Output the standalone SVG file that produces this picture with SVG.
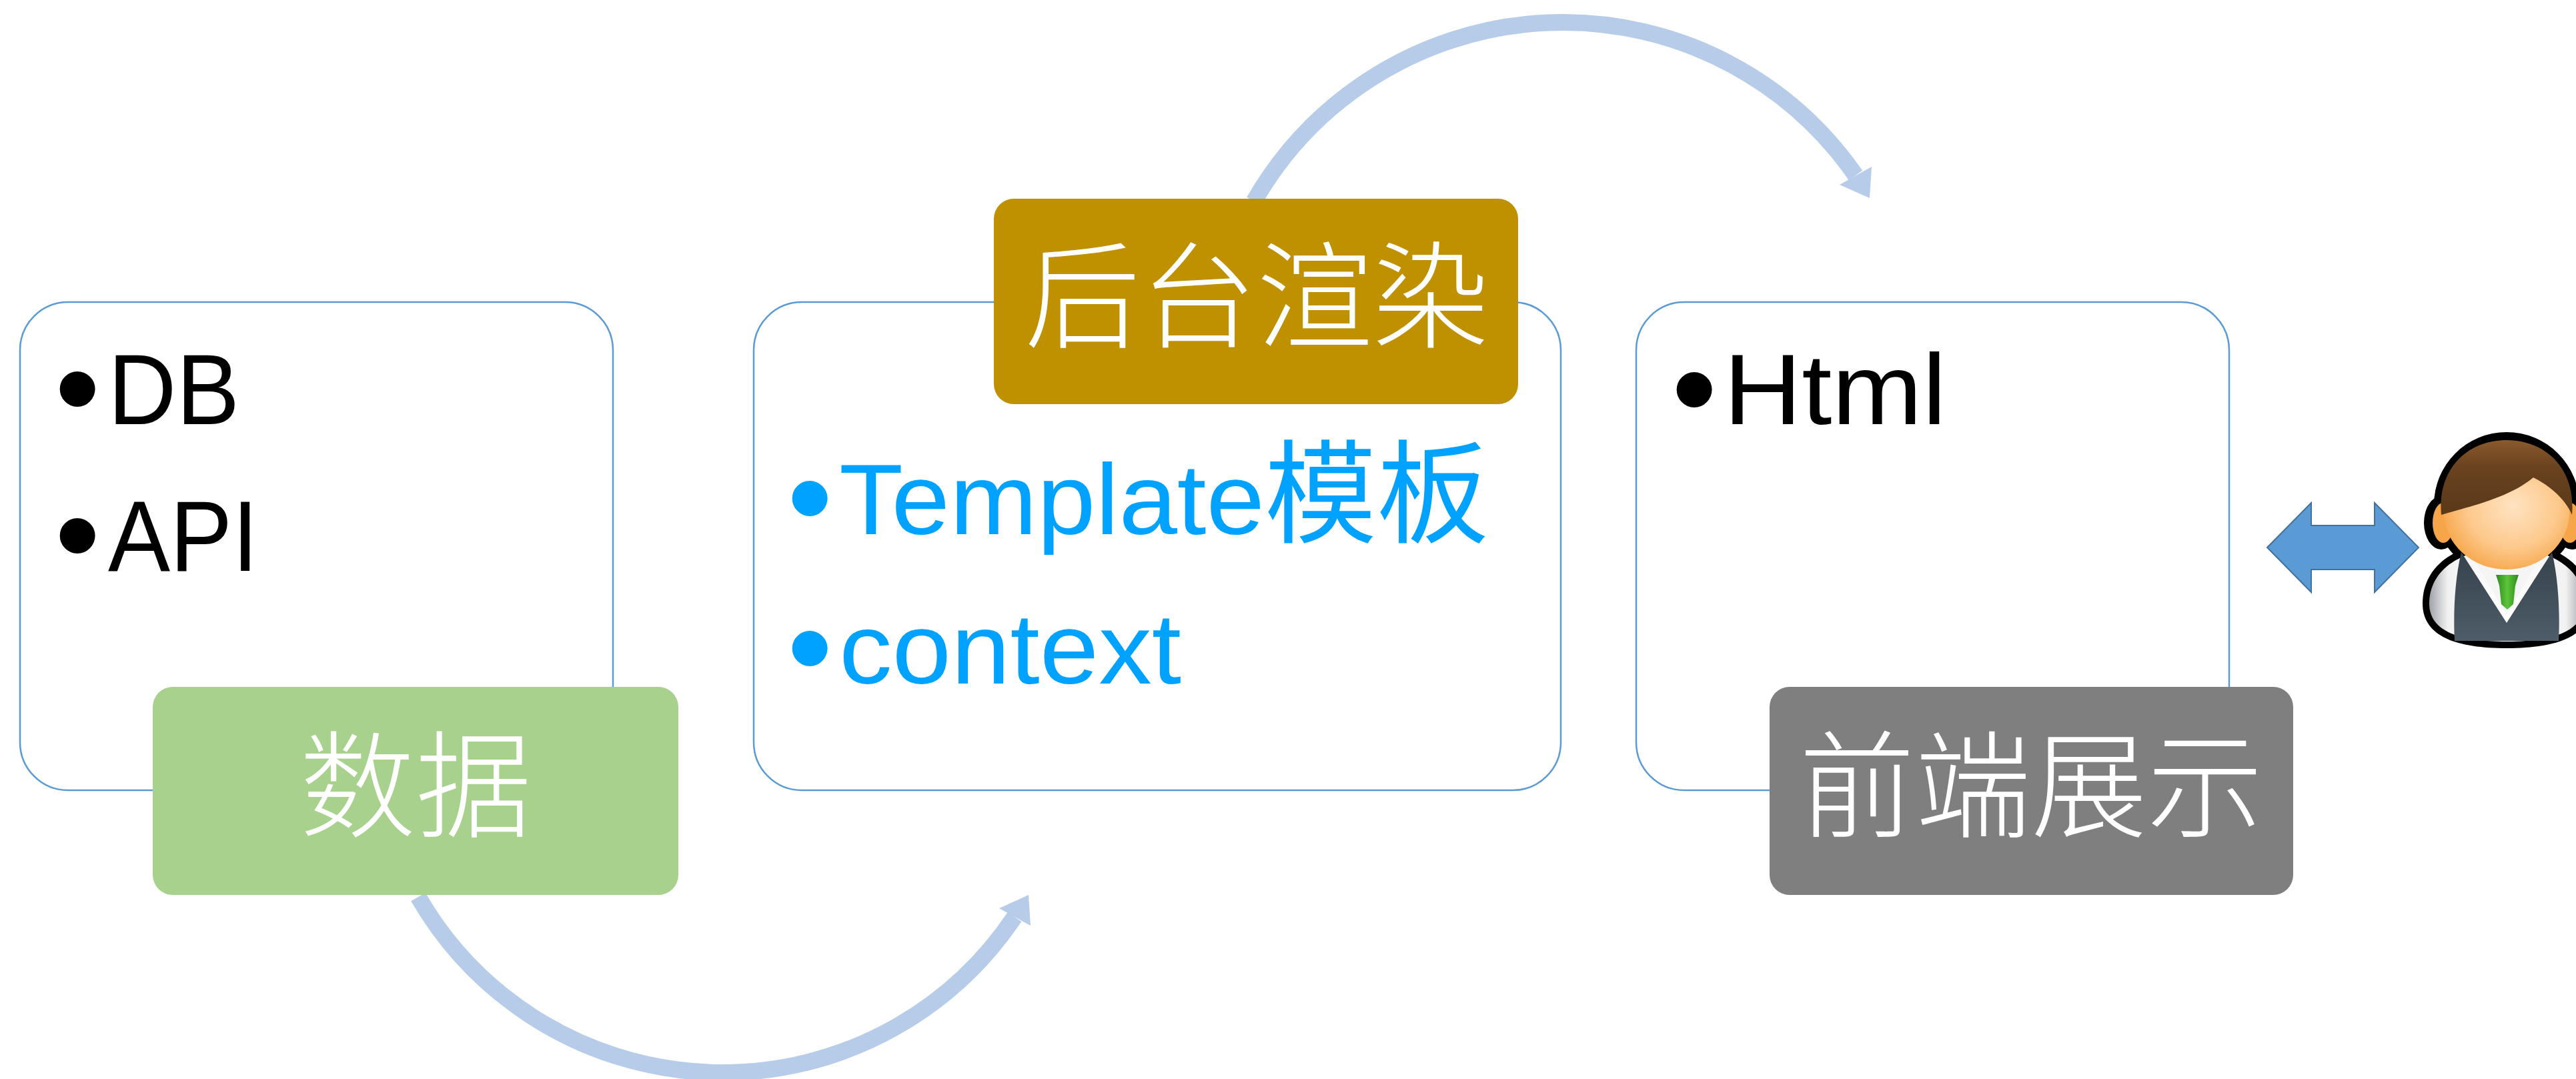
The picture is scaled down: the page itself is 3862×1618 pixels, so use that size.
<svg xmlns="http://www.w3.org/2000/svg" width="3862" height="1618" viewBox="0 0 3862 1618">
  <style>
    .card { fill: #FFFFFF; stroke: #5B9BD5; stroke-width: 2.5; }
    .txt { font-family: "Liberation Sans", "Noto Sans CJK SC", sans-serif; font-size: 150px; }
    .dark { fill: #000000; }
    .blue { fill: #00A2FF; }
    .bul { font-size: 195px; }
    .cjk { font-family: "Noto Sans CJK SC", sans-serif; font-size: 168px; }
    .label { font-family: "Noto Sans CJK SC", sans-serif; font-size: 174px; font-weight: 300; fill: #FFFFFF; text-anchor: middle; }
    .flow { fill: none; stroke: #B7CCE8; stroke-width: 25; }
    .flowhead { fill: #B7CCE8; }
  </style>
  <defs>
    <radialGradient id="skin" cx="0.55" cy="0.45" r="0.6">
      <stop offset="0" stop-color="#FFE3C2"/>
      <stop offset="0.6" stop-color="#FDC98C"/>
      <stop offset="1" stop-color="#F6A548"/>
    </radialGradient>
    <linearGradient id="hair" x1="0" y1="0" x2="0" y2="1">
      <stop offset="0" stop-color="#8A5A2C"/>
      <stop offset="0.35" stop-color="#6A4320"/>
      <stop offset="1" stop-color="#5A3818"/>
    </linearGradient>
    <linearGradient id="silver" x1="0" y1="0" x2="1" y2="0">
      <stop offset="0" stop-color="#9EA3A8"/>
      <stop offset="0.12" stop-color="#F2F2F2"/>
      <stop offset="0.5" stop-color="#FFFFFF"/>
      <stop offset="0.88" stop-color="#F2F2F2"/>
      <stop offset="1" stop-color="#9EA3A8"/>
    </linearGradient>
    <linearGradient id="vest" x1="0" y1="0" x2="0" y2="1">
      <stop offset="0" stop-color="#36424C"/>
      <stop offset="1" stop-color="#4E5D69"/>
    </linearGradient>
    <linearGradient id="tie" x1="0" y1="0" x2="1" y2="0">
      <stop offset="0" stop-color="#2E8A1C"/>
      <stop offset="0.5" stop-color="#5CC43A"/>
      <stop offset="1" stop-color="#2E8A1C"/>
    </linearGradient>
  </defs>

  <rect width="3862" height="1618" fill="#FFFFFF"/>

  <!-- curved flow arrows -->
  <g id="connectors">
    <path class="flow" d="M 627 1345 A 527 527 0 0 0 1521 1375"/>
    <polygon class="flowhead" points="1498,1362 1542,1342 1545,1388"/>
    <path class="flow" d="M 1880 302 A 534 534 0 0 1 2782 263"/>
    <polygon class="flowhead" points="2758,277 2806,250 2803,297"/>
  </g>

  <!-- data source -->
  <g id="node-data">
    <rect class="card" x="30" y="453" width="889" height="732" rx="72" ry="72"/>
    <text class="txt dark"><tspan class="bul" x="82" y="648">•</tspan><tspan x="162" y="636" textLength="197" lengthAdjust="spacingAndGlyphs">DB</tspan></text>
    <text class="txt dark"><tspan class="bul" x="82" y="868">•</tspan><tspan x="162" y="856" textLength="225" lengthAdjust="spacingAndGlyphs">API</tspan></text>
    <rect x="229" y="1030" width="788" height="312" rx="30" ry="30" fill="#A9D18E"/>
    <text class="label" x="623" y="1242">数据</text>
  </g>

  <!-- server-side rendering -->
  <g id="node-render">
    <rect class="card" x="1130" y="453" width="1210" height="732" rx="72" ry="72"/>
    <text class="txt blue"><tspan class="bul" x="1180" y="812">•</tspan><tspan x="1258" y="801" textLength="638" lengthAdjust="spacingAndGlyphs">Template</tspan><tspan class="cjk">模板</tspan></text>
    <text class="txt blue"><tspan class="bul" x="1180" y="1037">•</tspan><tspan x="1258" y="1025" textLength="513" lengthAdjust="spacingAndGlyphs">context</tspan></text>
    <rect x="1490" y="298" width="786" height="308" rx="30" ry="30" fill="#BF9000"/>
    <text class="label" x="1884" y="508">后台渲染</text>
  </g>

  <!-- front-end display -->
  <g id="node-front">
    <rect class="card" x="2453" y="453" width="889" height="732" rx="72" ry="72"/>
    <text class="txt dark"><tspan class="bul" x="2506" y="649">•</tspan><tspan x="2584" y="636" textLength="334" lengthAdjust="spacingAndGlyphs">Html</tspan></text>
    <rect x="2653" y="1030" width="785" height="312" rx="30" ry="30" fill="#7F7F7F"/>
    <text class="label" x="3045" y="1242">前端展示</text>
  </g>

  <!-- two-way exchange with the user -->
  <g id="node-exchange">
    <polygon points="3399,821 3465,754 3465,788 3560,788 3560,754 3626,821 3560,888 3560,854 3465,854 3465,888" fill="#5B9BD5" stroke="#41719C" stroke-width="2"/>
  </g>

  <!-- user -->
  <g id="node-user">
    <!-- black silhouette outline -->
    <ellipse cx="3758" cy="757" rx="109" ry="109" fill="#000"/>
    <ellipse cx="3660" cy="784" rx="26" ry="40" fill="#000"/>
    <ellipse cx="3856" cy="784" rx="26" ry="40" fill="#000"/>
    <path d="M 3632 905 C 3632 845 3688 812 3758 812 C 3828 812 3884 845 3884 905 C 3884 955 3832 972 3758 972 C 3684 972 3632 955 3632 905 Z" fill="#000"/>
    <!-- torso -->
    <path d="M 3642 905 C 3642 852 3694 822 3758 822 C 3822 822 3874 852 3874 905 C 3874 948 3826 962 3758 962 C 3690 962 3642 948 3642 905 Z" fill="url(#silver)"/>
    <path d="M 3690 828 L 3758 934 L 3826 828 C 3836 870 3838 920 3836 961 L 3680 961 C 3678 920 3680 870 3690 828 Z" fill="url(#vest)"/>
    <path d="M 3708 838 L 3808 838 L 3758 922 Z" fill="#F5F5F5"/>
    <path d="M 3742 862 L 3776 862 L 3771 878 L 3768 906 L 3759 914 L 3750 906 L 3747 878 Z" fill="url(#tie)"/>
    <!-- ears and face -->
    <ellipse cx="3663" cy="784" rx="16" ry="30" fill="#F6A548"/>
    <ellipse cx="3853" cy="784" rx="16" ry="30" fill="#F6A548"/>
    <ellipse cx="3758" cy="768" rx="94" ry="86" fill="url(#skin)"/>
    <!-- hair -->
    <path d="M 3660 772 C 3654 702 3700 660 3758 660 C 3816 660 3862 702 3856 772 C 3846 748 3822 728 3798 716 C 3762 746 3708 758 3660 772 Z" fill="url(#hair)"/>
  </g>
</svg>
